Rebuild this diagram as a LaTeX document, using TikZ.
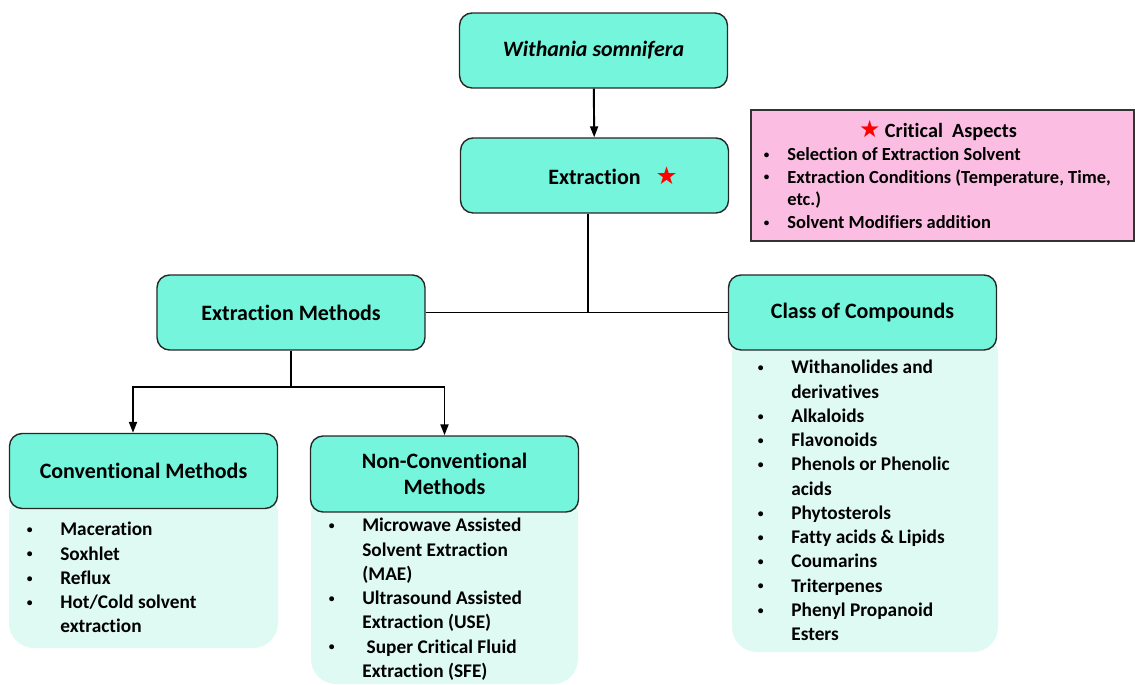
\documentclass[tikz,border=0pt]{standalone}
\usepackage{fontspec}
\setmainfont{Carlito}[Ligatures=NoCommon]
\newfontfamily\symfont{DejaVu Sans}
\usetikzlibrary{arrows.meta,positioning}
\definecolor{boxfill}{RGB}{116,245,220}
\definecolor{listfill}{RGB}{222,250,242}
\definecolor{notefill}{RGB}{251,190,226}
\newcommand{\blt}[1][0.72cm]{\makebox[#1][l]{\hspace*{0.05cm}\raisebox{0.12em}{\scalebox{0.6}{\textbullet}}}}
\newcommand{\cnt}[1][0.72cm]{\hspace*{#1}}
\begin{document}
\begin{tikzpicture}
[x=0.02cm,y=-0.02cm,
  boxdecorate/.style={draw=black!85,thick,fill=boxfill,rounded corners=0.25cm,
    minimum width=5.36cm,minimum height=1.5cm,align=center,
    font=\fontsize{12.5}{14.7}\selectfont\bfseries},
  listdecorate/.style={anchor=north west,inner sep=0pt,align=left,
    font=\fontsize{11}{13.8}\selectfont\bfseries},
  linedecorate/.style={-,line width=1.1pt},
  arrowdecorate/.style={-{Triangle[length=2.2mm,width=1.6mm]},line width=1.1pt}]
\useasboundingbox (0,0) rectangle (1135,685);
%%% light panels under the headings
\fill[listfill,rounded corners=0.5cm] (9,490) rectangle (278,648);
\fill[listfill,rounded corners=0.5cm] (311,490) rectangle (578,684);
\fill[listfill,rounded corners=0.5cm] (732,330) rectangle (998,652);
%%% heading boxes
% nodes
\node (ws) at (593.5,50.5) [boxdecorate] {\textit{Withania somnifera}};
\node (ex) at (594.5,175.5) [boxdecorate] {Extraction\rlap{\hspace{0.3cm}\textcolor{red}{\fontsize{14}{14}\symfont ★}}};
\node (em) at (291,312.5) [boxdecorate] {Extraction Methods};
\node (cc) at (862.5,312.5) [boxdecorate] {Class of Compounds};
\node (cm) at (143.5,471) [boxdecorate] {Conventional Methods};
\node (nc) at (444.5,474) [boxdecorate,minimum height=1.52cm] {Non-Conventional\\Methods};
% edges or lines
\draw[arrowdecorate] (ws) -- (ex);
\draw[linedecorate] (em) -- (cc);
\draw[linedecorate] ([xshift=-0.13cm]ex.south) -- ([xshift=-0.13cm]ex.south |- em.east);
\draw[linedecorate] (em.south) -- ++(0,36) coordinate (j);
\draw[arrowdecorate] (j) -| ([xshift=-0.21cm]cm.north);
\draw[arrowdecorate] (j) -| (nc.north);
%%% critical aspects note
\node (ca) at (942.5,175.5) [draw=black!80,thick,fill=notefill,minimum width=7.66cm,minimum height=2.62cm] {};
\node (cat) at (938,131) [font=\fontsize{11.5}{13}\selectfont\bfseries] {{\color{red}\fontsize{13.5}{13}\symfont ★} Critical\ \ Aspects};
\node (cal) at (761,147) [listdecorate,font=\fontsize{10.5}{13}\selectfont\bfseries]
  {\blt[0.52cm]Selection of Extraction Solvent\\
   \blt[0.52cm]Extraction Conditions (Temperature, Time,\\
   \cnt[0.52cm]etc.)\\
   \blt[0.52cm]Solvent Modifiers addition};
%%% item lists
\node (cml) at (24,522) [listdecorate]
  {\blt Maceration\\ \blt Soxhlet\\ \blt Reflux\\ \blt Hot/Cold solvent\\ \cnt extraction};
\node (ncl) at (326,518) [listdecorate]
  {\blt Microwave Assisted\\ \cnt Solvent Extraction\\ \cnt (MAE)\\
   \blt Ultrasound Assisted\\ \cnt Extraction (USE)\\
   \blt\ Super Critical Fluid\\ \cnt Extraction (SFE)};
\node (ccl) at (755,360) [listdecorate]
  {\blt Withanolides and\\ \cnt derivatives\\ \blt Alkaloids\\ \blt Flavonoids\\
   \blt Phenols or Phenolic\\ \cnt acids\\ \blt Phytosterols\\ \blt Fatty acids \& Lipids\\
   \blt Coumarins\\ \blt Triterpenes\\ \blt Phenyl Propanoid\\ \cnt Esters};
\end{tikzpicture}
\end{document}
